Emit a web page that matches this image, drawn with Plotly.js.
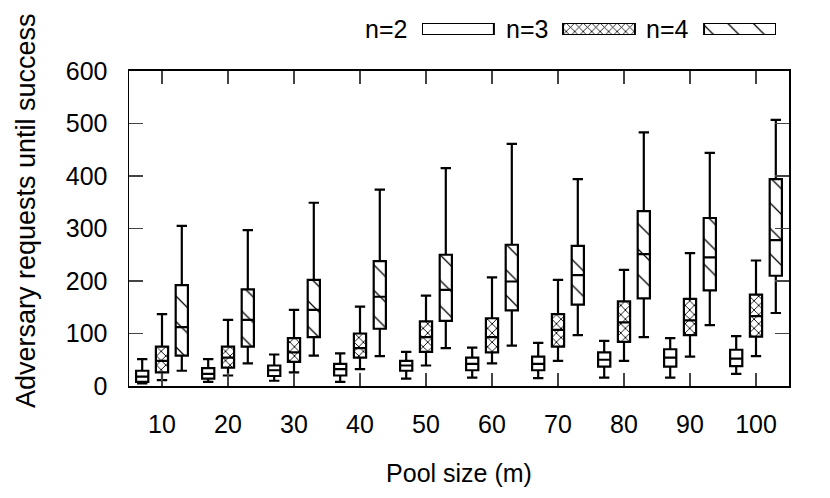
<!DOCTYPE html>
<html>
<head>
<meta charset="utf-8">
<script src="https://cdn.plot.ly/plotly-3.0.1.min.js"></script>
<style>
body { margin: 0; background: #fff; }
#chart { width: 830px; height: 498px; }
</style>
</head>
<body>
<div id="chart"></div>
<script>
// pool sizes (m)
let pool = [10, 20, 30, 40, 50, 60, 70, 80, 90, 100];

// n=2 : whisker low, q1, median, q3, whisker high
let n2_lo  = [5, 8, 10, 8, 14, 16, 15, 16, 16, 23];
let n2_q1  = [8, 14, 19, 20, 29, 30, 30, 37, 37, 38];
let n2_med = [18, 23, 30, 32, 39, 42, 42, 50, 54, 52];
let n2_q3  = [29, 34, 39, 42, 48, 54, 56, 64, 70, 69];
let n2_hi  = [51, 51, 60, 62, 65, 73, 82, 86, 91, 95];

// n=3
let n3_lo  = [11, 20, 26, 32, 39, 43, 48, 48, 56, 57];
let n3_q1  = [26, 35, 46, 54, 65, 64, 75, 84, 97, 94];
let n3_med = [48, 54, 64, 72, 93, 93, 107, 121, 125, 133];
let n3_q3  = [75, 75, 91, 100, 123, 129, 137, 161, 166, 174];
let n3_hi  = [137, 126, 145, 151, 172, 207, 202, 221, 253, 239];

// n=4
let n4_lo  = [29, 43, 58, 57, 72, 77, 97, 93, 116, 139];
let n4_q1  = [58, 75, 93, 109, 124, 144, 155, 167, 182, 210];
let n4_med = [112, 126, 145, 170, 183, 199, 211, 251, 245, 278];
let n4_q3  = [192, 184, 202, 238, 250, 269, 267, 333, 320, 394];
let n4_hi  = [305, 297, 349, 374, 415, 461, 394, 483, 444, 507];

let names = ['n=2', 'n=3', 'n=4'];

const font = 'Liberation Sans, Arial, sans-serif';
const boxW = 1.85;

let patterns = [
    {shape: '', bgcolor: 'white'},
    {shape: 'x', size: 6.5, solidity: 0.25, fgcolor: 'black', bgcolor: 'white'},
    {shape: '\\', size: 18, solidity: 0.07, fgcolor: 'black', bgcolor: 'white'}
];

let series = [
    [n2_lo, n2_q1, n2_med, n2_q3, n2_hi],
    [n3_lo, n3_q1, n3_med, n3_q3, n3_hi],
    [n4_lo, n4_q1, n4_med, n4_q3, n4_hi]
];
let offsets = [-3, 0, 3];

let traces = [];
for (let s = 0; s < 3; s++) {
    let d = series[s];
    let xs = pool.map(p => p + offsets[s]);
    // patterned fill of the box
    traces.push({
        type: 'bar',
        x: xs,
        base: d[1],
        y: d[3].map((v, i) => v - d[1][i]),
        width: boxW,
        marker: {color: 'white', line: {width: 0}, pattern: patterns[s]},
        showlegend: false,
        hoverinfo: 'skip'
    });
    // outline, median and whiskers
    traces.push({
        type: 'box',
        x: xs,
        lowerfence: d[0],
        q1: d[1],
        median: d[2],
        q3: d[3],
        upperfence: d[4],
        width: boxW,
        whiskerwidth: 0.85,
        fillcolor: 'rgba(0,0,0,0)',
        line: {color: 'black', width: 2.2},
        boxpoints: false,
        showlegend: false,
        hoverinfo: 'skip'
    });
}

// legend swatches drawn in a small axis above the plot
traces.push({
    type: 'bar',
    xaxis: 'x2',
    yaxis: 'y2',
    x: names,
    y: [1, 1, 1],
    width: 0.51,
    marker: {
        color: 'white',
        line: {color: 'black', width: 2},
        pattern: {
            shape: patterns.map(p => p.shape),
            size: [6, 6, 18],
            solidity: [0.25, 0.25, 0.07],
            fgcolor: 'black',
            bgcolor: 'white'
        }
    },
    showlegend: false,
    hoverinfo: 'skip'
});

let annotations = names.map(n => ({
    xref: 'x2', yref: 'y2', x: n, y: 0.5,
    text: n, showarrow: false,
    xanchor: 'right', yanchor: 'middle', xshift: -49,
    font: {size: 25}
}));
annotations.push({
    xref: 'paper', yref: 'paper', x: -0.156, y: 0.478,
    text: 'Adversary requests until success', textangle: -90,
    showarrow: false, xanchor: 'center', yanchor: 'middle',
    font: {size: 27}
});

let layout = {
    width: 830,
    height: 498,
    margin: {l: 129, r: 41, t: 20, b: 112},
    paper_bgcolor: 'white',
    plot_bgcolor: 'white',
    font: {family: font, size: 25, color: 'black'},
    showlegend: false,
    barmode: 'overlay',
    boxmode: 'overlay',
    xaxis: {
        range: [5, 105],
        tickvals: pool,
        ticktext: pool.map(String),
        ticks: 'inside',
        ticklen: 13,
        tickwidth: 1.5,
        tickcolor: '#444',
        ticklabelstandoff: 15,
        showline: true,
        linecolor: 'black',
        linewidth: 1.5,
        mirror: 'ticks',
        showgrid: false,
        zeroline: false,
        title: {text: 'Pool size (m)', font: {size: 25}, standoff: 28}
    },
    yaxis: {
        domain: [0, 0.8607],
        range: [0, 600],
        dtick: 100,
        ticks: 'inside',
        ticklen: 14,
        tickwidth: 1.5,
        tickcolor: '#444',
        ticklabelstandoff: 15,
        showline: true,
        linecolor: 'black',
        linewidth: 1.5,
        mirror: 'ticks',
        showgrid: false,
        zeroline: false
    },
    xaxis2: {
        anchor: 'y2',
        domain: [0.4439, 0.9803],
        type: 'category',
        range: [-0.255, 2.255],
        visible: false
    },
    yaxis2: {
        anchor: 'x2',
        domain: [0.959, 0.9918],
        range: [0, 1],
        visible: false
    },
    annotations: annotations
};

Plotly.newPlot('chart', traces, layout, {staticPlot: true});
</script>
</body>
</html>
